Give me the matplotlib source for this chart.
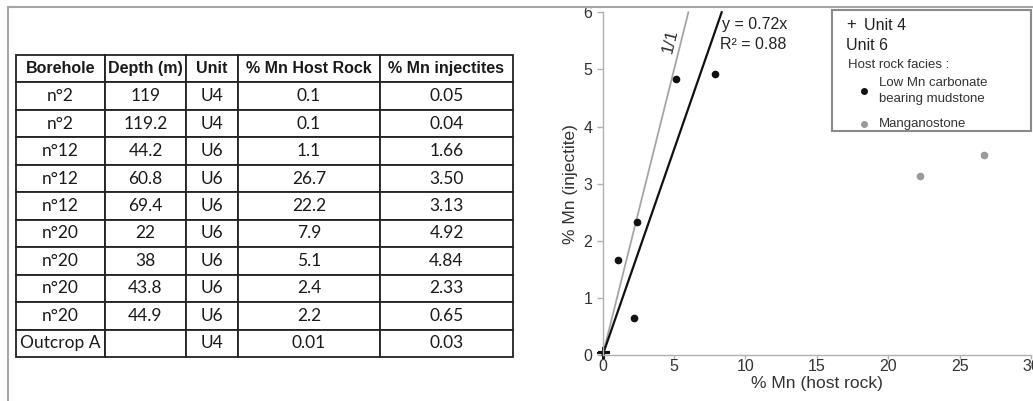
import matplotlib
matplotlib.use("Agg")
import matplotlib.pyplot as plt
from matplotlib.lines import Line2D
from matplotlib.patches import Rectangle

# data
borehole = ["n°2", "n°2", "n°12", "n°12", "n°12", "n°20", "n°20", "n°20", "n°20", "Outcrop A"]
depth = [119, 119.2, 44.2, 60.8, 69.4, 22, 38, 43.8, 44.9, None]
unit = ["U4", "U4", "U6", "U6", "U6", "U6", "U6", "U6", "U6", "U4"]
mn_host = [0.1, 0.1, 1.1, 26.7, 22.2, 7.9, 5.1, 2.4, 2.2, 0.01]
mn_inj = [0.05, 0.04, 1.66, 3.50, 3.13, 4.92, 4.84, 2.33, 0.65, 0.03]
facies = ["", "", "low", "mangano", "mangano", "low", "low", "low", "low", ""]
headers = ["Borehole", "Depth (m)", "Unit", "% Mn Host Rock", "% Mn injectites"]
slope = 0.72
r2 = 0.88

W, H = 1033, 401
fig = plt.figure(figsize=(W / 100, H / 100), dpi=100)


def px(x, y):
    return x / W, 1 - y / H


# outer frame (top and left)
fig.add_artist(Line2D([8 / W, 1], [1 - 6.5 / H] * 2, color="#a6a6a6", lw=1.5))
fig.add_artist(Line2D([8 / W] * 2, [0, 1 - 6.5 / H], color="#a6a6a6", lw=1.5))

# ---- table ----
tax = fig.add_axes([0, 0, 1, 1])
tax.axis("off")
rows = []
for b, d, u, h_, i_ in zip(borehole, depth, unit, mn_host, mn_inj):
    rows.append([b, "" if d is None else f"{d:g}", u, f"{h_:g}", f"{i_:.2f}"])
colw = [89, 81, 52, 142, 133]
tot = sum(colw)
tb = tax.table(cellText=rows, colLabels=headers, cellLoc="center",
               colWidths=[c / tot for c in colw],
               bbox=[16 / W, 44 / H, 497 / W, 302 / H])
tb.auto_set_font_size(False)
for (r, c), cell in tb.get_celld().items():
    cell.set_edgecolor("#222222")
    cell.set_linewidth(1.3)
    if r == 0:
        cell.set_text_props(fontfamily="Liberation Sans", fontweight="bold",
                            fontsize=11.5, color="#1a1a1a")
    else:
        cell.set_text_props(fontfamily="Lato", fontsize=12.5, color="#1a1a1a")

# ---- scatter chart ----
ax = fig.add_axes([602.7 / W, 46 / H, 428.3 / W, 342.7 / H])
ax.set_xlim(0, 30)
ax.set_ylim(0, 6)
for s in ["top", "right"]:
    ax.spines[s].set_visible(False)
for s in ["left", "bottom"]:
    ax.spines[s].set_color("#b0b0b0")
    ax.spines[s].set_linewidth(1.0)
ax.set_xticks([0, 5, 10, 15, 20, 25, 30])
ax.set_yticks([0, 1, 2, 3, 4, 5, 6])
ax.tick_params(colors="#b0b0b0", labelcolor="#333333", length=4, width=1,
               labelsize=11.5)
ax.tick_params(axis="x", length=3, pad=0)
for lab in ax.get_xticklabels() + ax.get_yticklabels():
    lab.set_fontfamily("Liberation Sans")
ax.set_xlabel("% Mn (host rock)", fontfamily="Liberation Sans", fontsize=12.5,
              color="#333333", labelpad=1)
ax.set_ylabel("% Mn (injectite)", fontfamily="Liberation Sans", fontsize=12.5,
              color="#333333", labelpad=4)

ax.plot([0, 6], [0, 6], color="#a6a6a6", lw=1.3, clip_on=False)
ax.plot([0, 6 / slope], [0, 6], color="#111111", lw=1.6, clip_on=False)

for x, y, u, f in zip(mn_host, mn_inj, unit, facies):
    if u == "U4":
        ax.plot(x, y, marker="+", color="#111111", ms=9, mew=1.5, clip_on=False)
    elif f == "low":
        ax.plot(x, y, "o", color="#111111", ms=4.5)
    else:
        ax.plot(x, y, "o", color="#9a9a9a", ms=4.5)

ax.text(4.75, 5.5, "1/1", rotation=76, ha="center", va="center",
        fontfamily="Liberation Sans", fontsize=12.5, color="#333333")
ax.text(8.35, 5.79, f"y = {slope}x", ha="left", va="center",
        fontfamily="Liberation Sans", fontsize=11.5, color="#222222")
ax.text(8.2, 5.44, f"R² = {r2}", ha="left", va="center",
        fontfamily="Liberation Sans", fontsize=11.5, color="#222222")

# ---- legend box ----
x0, y0 = px(832, 131)
fig.add_artist(Rectangle((x0, y0), 199 / W, 121 / H, transform=fig.transFigure,
                         facecolor="white", edgecolor="#8a8a8a", lw=1.5))
kw = dict(fontfamily="Liberation Sans", va="center", ha="left")
fig.text(*px(846, 25), "+", fontsize=12, color="#222222", **kw)
fig.text(*px(864, 25), "Unit 4", fontsize=11.5, color="#222222", **kw)
fig.text(*px(846, 45), "Unit 6", fontsize=11.5, color="#222222", **kw)
fig.text(*px(848, 65), "Host rock facies :", fontsize=9.5, color="#333333", **kw)
fig.add_artist(Line2D([px(864, 91)[0]], [px(864, 91)[1]], marker="o",
                      color="#111111", ms=4))
fig.text(*px(879, 83), "Low Mn carbonate", fontsize=9.5, color="#333333", **kw)
fig.text(*px(879, 99), "bearing mudstone", fontsize=9.5, color="#333333", **kw)
fig.add_artist(Line2D([px(864, 124)[0]], [px(864, 124)[1]], marker="o",
                      color="#9a9a9a", ms=4))
fig.text(*px(879, 124), "Manganostone", fontsize=9.5, color="#333333", **kw)

fig.savefig("out.png", dpi=100)
